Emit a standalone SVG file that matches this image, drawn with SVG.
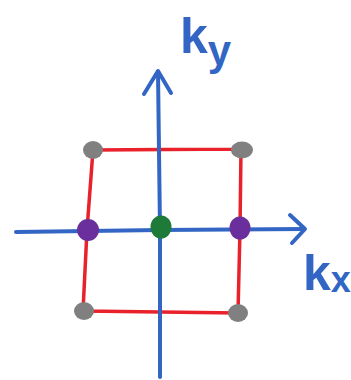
<svg xmlns="http://www.w3.org/2000/svg" width="351" height="380" viewBox="0 0 351 380">
<style>
.ax{stroke:#3366c4;stroke-width:4;fill:none;stroke-linecap:round;stroke-linejoin:round}
.sq{stroke:#e8212b;stroke-width:3.5;fill:none;stroke-linecap:round}
.lbl{font-family:"Liberation Sans",sans-serif;fill:#3366c4;font-size:50px;font-weight:bold}
.grey{fill:#808080}.purple{fill:#6a2f9c}.green{fill:#1d7a38}
</style>
<rect width="351" height="380" fill="#fff"/>
<g id="square">
<path class="sq" d="M93,150 L241,149 M93,150 L87,230 L83,311 M241,149 L240,229 L238,313 M83,311 L238,313"/>
</g>
<g id="connectors">
<path class="ax" d="M16,232 L160,230 L304,229"/>
<path class="ax" d="M290,215 L305,229 L292,243"/>
<path class="ax" d="M160,377 L160,230 L158,72"/>
<path class="ax" d="M144,94 L158,71 L171,93"/>
</g>
<g id="n-tl"><ellipse class="grey" cx="93" cy="150" rx="10" ry="9"/></g>
<g id="n-tr"><ellipse class="grey" cx="242" cy="150" rx="11" ry="8.5"/></g>
<g id="n-bl"><ellipse class="grey" cx="84" cy="311" rx="10" ry="9"/></g>
<g id="n-br"><ellipse class="grey" cx="238" cy="313" rx="10" ry="9"/></g>
<g id="n-l"><ellipse class="purple" cx="88" cy="230" rx="11" ry="11"/></g>
<g id="n-r"><ellipse class="purple" cx="240" cy="228" rx="10.5" ry="11.5"/></g>
<g id="n-c"><ellipse class="green" cx="161" cy="227" rx="10.5" ry="11.5"/></g>
<g id="label-ky"><text class="lbl" x="180" y="53">k<tspan font-size="42" dy="12">y</tspan></text></g>
<g id="label-kx"><text class="lbl" x="303" y="290" font-size="46">k<tspan font-size="36" dy="2">x</tspan></text></g>
</svg>
